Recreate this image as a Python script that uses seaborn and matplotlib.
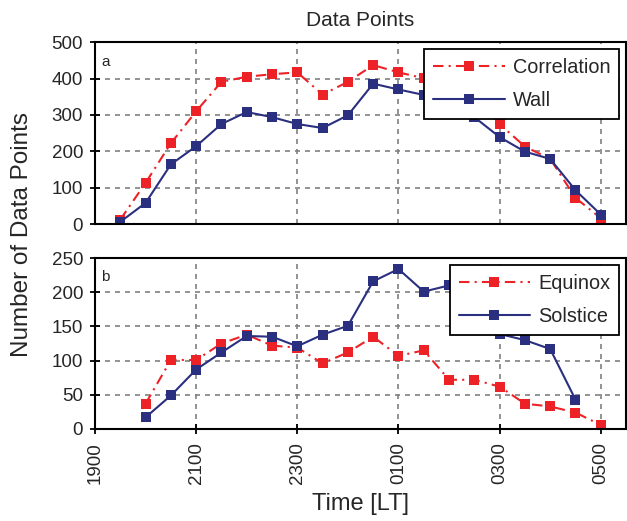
import pandas as pd
import matplotlib.pyplot as plt
import seaborn as sns

# times (local) for each half-hour bin
times_top = ['1930', '2000', '2030', '2100', '2130', '2200', '2230', '2300', '2330', '0000',
             '0030', '0100', '0130', '0200', '0230', '0300', '0330', '0400', '0430', '0500']
correlation = [12, 113, 222, 310, 391, 405, 412, 417, 356, 391,
               437, 417, 401, 401, 344, 275, 213, 179, 72, 16]
wall = [6, 58, 164, 214, 275, 308, 294, 275, 264, 299,
        386, 370, 355, 315, 294, 239, 199, 179, 93, 26]

times_equinox = times_top[1:]
equinox = [37, 101, 101, 125, 138, 122, 119, 96, 112,
           135, 107, 115, 72, 72, 62, 37, 33, 24, 6]
times_solstice = times_top[1:-1]
solstice = [17, 49, 87, 112, 136, 135, 121, 138, 151,
            216, 234, 201, 210, 183, 139, 130, 117, 43]

tick_labels = ['1900', '2100', '2300', '0100', '0300', '0500']

RED = '#ec2227'
NAVY = '#2a2f7f'


def to_hours(t):
    h = int(t[:2]) + int(t[2:]) / 60
    return h + 24 if h < 12 else h


sns.set_style('ticks')
plt.rcParams['font.family'] = ['Liberation Sans', 'DejaVu Sans']

fig = plt.figure(figsize=(6.27, 5.21), dpi=100)
ax1 = fig.add_axes([0.1515, 0.570, 0.847, 0.349])
ax2 = fig.add_axes([0.1515, 0.1766, 0.847, 0.328])

top = pd.DataFrame({'t': [to_hours(t) for t in times_top],
                    'Correlation': correlation, 'Wall': wall})
eq = pd.DataFrame({'t': [to_hours(t) for t in times_equinox], 'Equinox': equinox})
so = pd.DataFrame({'t': [to_hours(t) for t in times_solstice], 'Solstice': solstice})

red_kw = dict(color=RED, marker='s', markersize=6.5, markeredgewidth=0, linewidth=1.5,
              dashes=(5, 2.5, 1, 2.5))
blue_kw = dict(color=NAVY, marker='s', markersize=6.5, markeredgewidth=0, linewidth=1.5)

sns.lineplot(data=top, x='t', y='Correlation', ax=ax1, label='Correlation', **red_kw)
sns.lineplot(data=top, x='t', y='Wall', ax=ax1, label='Wall', **blue_kw)
sns.lineplot(data=eq, x='t', y='Equinox', ax=ax2, label='Equinox', **red_kw)
sns.lineplot(data=so, x='t', y='Solstice', ax=ax2, label='Solstice', **blue_kw)

ticks = [to_hours(t) for t in tick_labels]
for ax, ymax, step, letter in [(ax1, 500, 100, 'a'), (ax2, 250, 50, 'b')]:
    ax.set_xlim(19, 29.5)
    ax.set_ylim(0, ymax)
    ax.set_yticks(range(0, ymax + 1, step))
    ax.set_xticks(ticks)
    ax.grid(True, linestyle=(0, (3, 3)), color='#808080', linewidth=1.2)
    ax.set_xlabel('')
    ax.set_ylabel('')
    for s in ax.spines.values():
        s.set_linewidth(1.5)
        s.set_color('black')
    ax.tick_params(axis='y', labelsize=13.5, width=1.3, length=7, direction='inout',
                   pad=5, color='black')
    ax.tick_params(axis='x', labelsize=13.5, width=1.3, length=7, direction='inout',
                   pad=6, color='black')
    ax.text(0.012, 0.93, letter, transform=ax.transAxes, fontsize=11, va='top')
    leg = ax.legend(loc='upper right', fontsize=14.3, frameon=True, fancybox=False,
                    edgecolor='black', framealpha=1, handlelength=3.6,
                    borderaxespad=0.35, labelspacing=0.7, handletextpad=0.4,
                    borderpad=0.45)
    leg.get_frame().set_linewidth(1.3)

ax1.tick_params(axis='x', labelbottom=False, length=0)
ax2.set_xticklabels(tick_labels, rotation=90)

ax1.set_title('Data Points', fontsize=15, pad=12)
ax2.set_xlabel('Time [LT]', fontsize=17, labelpad=6)
fig.text(0.035, 0.55, 'Number of Data Points', rotation=90, fontsize=17.5,
         ha='center', va='center')

fig.savefig('out.png', dpi=100)
